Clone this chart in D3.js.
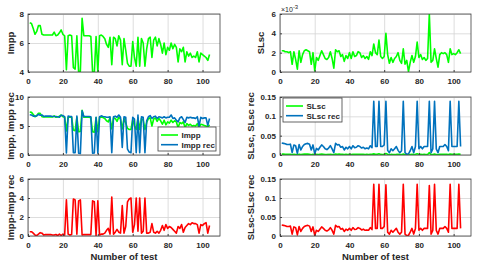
<!DOCTYPE html>
<html>
<head>
<meta charset="utf-8">
<script src="https://cdn.jsdelivr.net/npm/d3@7/dist/d3.min.js"></script>
<style>
  body { margin: 0; background: #fff; }
  svg text { font-family: Arial, "Liberation Sans", sans-serif; fill: #262626; }
</style>
</head>
<body>
<svg id="chart" width="480" height="266"></svg>
<script>
// test number 1..104
const testNo = d3.range(1, 105);

const impp = [7.40,7.35,7.00,6.60,6.80,7.20,7.20,6.60,6.55,6.55,6.55,6.55,6.55,6.55,6.75,6.50,6.55,6.70,6.90,6.60,
  6.50,4.15,6.50,6.55,6.50,4.30,4.20,6.50,4.00,4.05,7.70,6.50,6.50,6.50,6.50,6.45,4.00,3.95,6.45,4.00,
  6.50,6.55,6.45,6.30,5.90,5.70,6.40,4.50,6.40,6.30,5.80,6.50,6.20,4.50,6.30,5.50,4.60,4.40,4.40,6.10,
  5.00,4.40,6.40,4.40,6.30,6.00,4.40,5.60,6.30,6.40,5.00,6.20,6.40,5.80,6.30,5.90,5.30,6.00,5.20,5.70,
  5.50,6.00,5.60,5.90,5.70,4.70,5.60,5.40,5.70,4.70,5.40,5.10,5.30,5.00,5.10,5.00,5.40,4.70,5.30,5.20,
  5.10,5.00,4.80,5.20];
const imppRec = [6.95,6.90,6.70,6.70,6.75,7.00,6.85,6.90,6.65,6.70,6.70,6.70,6.70,6.65,6.65,6.65,6.60,6.50,6.85,6.80,
  6.60,0.35,6.70,6.65,6.65,0.40,0.40,6.70,0.30,0.25,7.60,6.65,6.65,6.65,6.65,6.60,0.30,0.35,6.50,0.30,
  6.60,6.75,6.65,6.60,6.50,6.50,6.60,0.40,6.60,6.70,6.50,6.90,6.50,1.30,6.60,6.50,1.00,0.50,0.40,6.50,
  6.20,0.40,6.90,0.40,6.60,6.50,0.40,5.90,6.60,6.80,6.30,6.60,6.70,6.30,6.60,6.50,6.40,6.60,6.40,6.50,
  6.50,6.90,6.30,6.40,6.00,5.70,6.40,6.60,6.10,5.60,6.50,6.40,6.50,6.40,6.40,6.30,6.60,5.00,6.50,6.30,
  6.40,6.40,5.10,6.30];
const imppDiff = [0.45,0.45,0.30,0.10,0.05,0.20,0.35,0.30,0.10,0.15,0.15,0.15,0.15,0.10,0.10,0.15,0.05,0.20,0.05,0.20,
  0.10,3.80,0.20,0.10,0.15,3.90,3.80,0.20,3.70,3.80,0.10,0.15,0.15,0.15,0.15,0.15,3.70,3.60,0.05,3.70,
  0.10,0.20,0.20,0.30,0.60,0.80,0.20,4.10,0.20,0.40,0.70,0.40,0.30,3.20,0.30,1.00,3.60,3.90,4.00,0.40,
  1.20,4.00,0.50,4.00,0.30,0.50,4.00,0.30,0.30,0.40,1.30,0.40,0.30,0.50,0.30,0.60,1.10,0.60,1.20,0.80,
  1.00,0.90,0.70,0.50,0.30,1.00,0.80,1.20,0.40,0.90,1.10,1.30,1.20,1.40,1.30,1.30,1.20,0.30,1.20,1.10,
  1.30,1.40,0.30,1.10];

// SLsc in units of 1e-3
const slscE3 = [2.2,2.2,2.1,2.1,2.0,2.1,0.8,2.1,1.3,0.3,2.2,1.0,1.8,2.2,2.3,2.2,2.1,0.8,2.0,0.1,
  1.5,1.2,1.7,2.2,1.8,1.4,1.3,1.5,2.1,1.4,0.4,2.3,2.1,2.2,1.6,1.8,1.1,1.7,1.4,2.0,
  1.4,2.1,1.6,1.7,2.1,2.0,1.5,1.7,1.4,1.6,1.3,2.1,1.7,2.9,2.0,1.8,3.3,1.6,1.4,1.6,
  4.0,1.8,0.9,1.5,1.0,1.4,1.6,2.0,1.2,0.9,2.4,0.8,1.2,0.05,1.0,1.7,1.0,1.6,3.1,1.5,
  1.8,1.3,1.5,1.2,1.4,6.0,1.0,1.2,2.4,1.4,0.5,1.8,2.0,1.9,2.0,1.8,1.0,2.4,1.8,1.9,
  1.8,2.0,2.3,1.9];
const slscRec = [0.031,0.030,0.029,0.027,0.027,0.028,0.006,0.026,0.024,0.004,0.027,0.013,0.022,0.027,0.029,0.030,0.028,0.013,0.026,0.003,
  0.017,0.013,0.020,0.026,0.022,0.016,0.014,0.018,0.024,0.016,0.006,0.030,0.026,0.027,0.020,0.022,0.013,0.020,0.016,0.022,
  0.016,0.024,0.019,0.020,0.024,0.022,0.018,0.020,0.016,0.018,0.016,0.024,0.019,0.139,0.022,0.022,0.139,0.022,0.022,0.026,
  0.139,0.012,0.006,0.016,0.011,0.016,0.022,0.012,0.006,0.011,0.139,0.006,0.002,0.003,0.011,0.022,0.006,0.022,0.139,0.016,
  0.022,0.016,0.022,0.022,0.022,0.139,0.006,0.016,0.139,0.016,0.006,0.022,0.022,0.022,0.027,0.022,0.011,0.139,0.022,0.022,
  0.022,0.022,0.139,0.022];
const slscDiff = [0.029,0.028,0.027,0.025,0.025,0.026,0.005,0.024,0.022,0.003,0.025,0.012,0.020,0.025,0.027,0.028,0.026,0.012,0.024,0.002,
  0.015,0.012,0.018,0.024,0.020,0.015,0.013,0.016,0.022,0.015,0.005,0.028,0.024,0.025,0.018,0.020,0.012,0.018,0.015,0.020,
  0.015,0.022,0.017,0.018,0.022,0.020,0.016,0.018,0.015,0.016,0.015,0.022,0.017,0.136,0.020,0.020,0.136,0.020,0.020,0.025,
  0.135,0.010,0.005,0.015,0.010,0.015,0.020,0.010,0.005,0.010,0.136,0.005,0.001,0.002,0.010,0.020,0.005,0.020,0.136,0.015,
  0.020,0.015,0.020,0.020,0.020,0.133,0.005,0.015,0.136,0.015,0.005,0.020,0.020,0.020,0.025,0.020,0.010,0.136,0.020,0.020,
  0.020,0.020,0.136,0.020];

const xTicks = [0, 20, 40, 60, 80, 100];
const imppTicks = [4, 6, 8];
const imppRecTicks = [0, 5, 10];
const imppDiffTicks = [0, 2, 4, 6];
const slscTicks = [0, 2, 4, 6];
const slscRecTicks = [0, 0.05, 0.1, 0.15];

const GREEN = "#00ff00", BLUE = "#0072bd", RED = "#ff0000";

const svg = d3.select("#chart");
let clipId = 0;

function panel(p) {
  const x = d3.scaleLinear().domain([0, 110]).range([p.left, p.right]);
  const y = d3.scaleLinear().domain(p.yDomain).range([p.bottom, p.top]);
  const g = svg.append("g");
  const h = p.bottom - p.top, w = p.right - p.left;

  // grid
  g.append("g").attr("transform", `translate(0,${p.bottom})`)
    .call(d3.axisBottom(x).tickValues(xTicks).tickSize(-h).tickFormat(""))
    .call(a => a.select(".domain").remove())
    .selectAll("line").attr("stroke", "#d4d4d4").attr("stroke-width", 0.8);
  g.append("g").attr("transform", `translate(${p.left},0)`)
    .call(d3.axisLeft(y).tickValues(p.yTicks).tickSize(-w).tickFormat(""))
    .call(a => a.select(".domain").remove())
    .selectAll("line").attr("stroke", "#d4d4d4").attr("stroke-width", 0.8);

  // lines
  const cid = "clip" + (clipId++);
  g.append("clipPath").attr("id", cid).append("rect")
    .attr("x", p.left).attr("y", p.top).attr("width", w).attr("height", h);
  const line = d3.line().x((d, i) => x(testNo[i])).y(d => y(d));
  p.series.forEach(s => {
    g.append("path").datum(s.values)
      .attr("clip-path", `url(#${cid})`)
      .attr("fill", "none").attr("stroke", s.color)
      .attr("stroke-width", 1.6).attr("stroke-linejoin", "round")
      .attr("d", line);
  });

  // axes with inward ticks
  const ax = g.append("g").attr("transform", `translate(0,${p.bottom})`)
    .call(d3.axisBottom(x).tickValues(xTicks).tickSize(-2).tickPadding(4));
  const ay = g.append("g").attr("transform", `translate(${p.left},0)`)
    .call(d3.axisLeft(y).tickValues(p.yTicks).tickSize(-2).tickPadding(4).tickFormat(p.fmt || d3.format("")));
  [ax, ay].forEach(a => {
    a.select(".domain").remove();
    a.selectAll("line").attr("stroke", "#404040");
    a.selectAll("text").attr("font-size", 8).attr("font-weight", "bold")
      .attr("font-family", "Arial, 'Liberation Sans', sans-serif").attr("fill", "#262626");
  });
  ax.selectAll("text").attr("dy", "0.95em");

  // box
  g.append("rect").attr("x", p.left).attr("y", p.top).attr("width", w).attr("height", h)
    .attr("fill", "none").attr("stroke", "#404040").attr("stroke-width", 0.8);

  // y label
  g.append("text")
    .attr("transform", `translate(${p.ylabelX},${(p.top + p.bottom) / 2}) rotate(-90)`)
    .attr("text-anchor", "middle").attr("font-size", 9.5).attr("font-weight", "bold")
    .text(p.ylabel);

  if (p.xlabel) {
    g.append("text").attr("x", (p.left + p.right) / 2).attr("y", p.bottom + 24)
      .attr("text-anchor", "middle").attr("font-size", 9.5).attr("font-weight", "bold")
      .text(p.xlabel);
  }

  if (p.exponent) {
    const t = g.append("text").attr("x", p.left + 1).attr("y", p.top - 2)
      .attr("font-size", 7);
    t.append("tspan").text("\u00d710");
    t.append("tspan").attr("dy", -3).attr("font-size", 6).text(p.exponent);
  }

  if (p.legend) {
    const L = p.legend;
    const lg = g.append("g").attr("transform", `translate(${L.x},${L.y})`);
    lg.append("rect").attr("width", L.w).attr("height", L.h)
      .attr("fill", "#fff").attr("stroke", "#404040").attr("stroke-width", 0.8);
    p.series.forEach((s, i) => {
      const yy = 8 + i * 9.7;
      lg.append("line").attr("x1", 3).attr("x2", 20).attr("y1", yy).attr("y2", yy)
        .attr("stroke", s.color).attr("stroke-width", 1.6);
      lg.append("text").attr("x", 23.5).attr("y", yy).attr("dy", "0.35em")
        .attr("font-size", 8).attr("font-weight", "bold").text(s.name);
    });
  }
}

const L = { left: 28, right: 220 }, R = { left: 280, right: 471 };
const rows = [{ top: 14, bottom: 72 }, { top: 97, bottom: 155 }, { top: 179, bottom: 236 }];
const fmtSmall = d => (d === 0 ? "0" : String(d));

panel({ ...L, ...rows[0], yDomain: [4, 8], yTicks: imppTicks, ylabelX: 14, ylabel: "Impp",
  series: [{ name: "Impp", color: GREEN, values: impp }] });
panel({ ...L, ...rows[1], yDomain: [0, 10], yTicks: imppRecTicks, ylabelX: 14, ylabel: "Impp, Impp rec",
  series: [{ name: "Impp", color: GREEN, values: impp }, { name: "Impp rec", color: BLUE, values: imppRec }],
  legend: { x: 158, y: 127, w: 58, h: 24 } });
panel({ ...L, ...rows[2], yDomain: [0, 6], yTicks: imppDiffTicks, ylabelX: 14, ylabel: "Impp-Impp rec",
  xlabel: "Number of test",
  series: [{ name: "Impp-Impp rec", color: RED, values: imppDiff }] });

panel({ ...R, ...rows[0], yDomain: [0, 6], yTicks: slscTicks, ylabelX: 264, ylabel: "SLsc", exponent: "-3",
  series: [{ name: "SLsc", color: GREEN, values: slscE3 }] });
panel({ ...R, ...rows[1], yDomain: [0, 0.15], yTicks: slscRecTicks, ylabelX: 254, ylabel: "SLsc, SLsc rec",
  fmt: fmtSmall,
  series: [{ name: "SLsc", color: GREEN, values: slscE3.map(v => v * 1e-3) },
           { name: "SLsc rec", color: BLUE, values: slscRec }],
  legend: { x: 283, y: 98, w: 59, h: 24 } });
panel({ ...R, ...rows[2], yDomain: [0, 0.15], yTicks: slscRecTicks, ylabelX: 254, ylabel: "SLsc-SLsc rec",
  fmt: fmtSmall, xlabel: "Number of test",
  series: [{ name: "SLsc-SLsc rec", color: RED, values: slscDiff }] });
</script>
</body>
</html>
